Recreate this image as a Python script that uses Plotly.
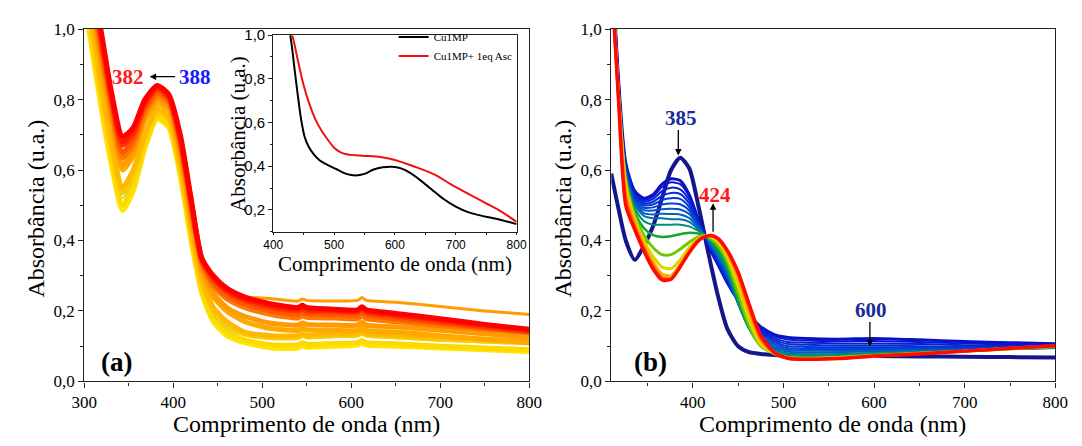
import plotly.graph_objects as go

W, H = 1082, 446
SERIF = "Times New Roman, Liberation Serif, DejaVu Serif, serif"
SANS = "Arial, Liberation Sans, sans-serif"

# ---------------- Panel (a) data ----------------
wl_a = [300, 310, 320, 330, 343, 355, 368, 382, 395, 408, 420, 432, 445, 460, 480,
        510, 540, 545, 550, 580, 607, 612, 617, 650, 700, 750, 800]

a_yellow_1 = [1.08, 0.92, 0.76, 0.62, 0.485, 0.54, 0.66, 0.745, 0.72, 0.58, 0.40, 0.25, 0.17, 0.13, 0.11,
              0.095, 0.095, 0.101, 0.097, 0.10, 0.103, 0.109, 0.103, 0.10, 0.095, 0.09, 0.085]
a_yellow_2 = [1.10, 0.94, 0.78, 0.64, 0.50, 0.555, 0.67, 0.752, 0.73, 0.59, 0.41, 0.26, 0.18, 0.14, 0.118,
              0.104, 0.104, 0.110, 0.106, 0.108, 0.11, 0.116, 0.11, 0.107, 0.10, 0.095, 0.09]
a_lime = [1.12, 0.96, 0.80, 0.66, 0.52, 0.57, 0.68, 0.76, 0.74, 0.60, 0.42, 0.27, 0.19, 0.15, 0.13,
          0.12, 0.12, 0.126, 0.122, 0.125, 0.127, 0.133, 0.127, 0.122, 0.115, 0.11, 0.105]
a_gold_1 = [1.13, 0.97, 0.81, 0.67, 0.535, 0.585, 0.69, 0.765, 0.745, 0.61, 0.43, 0.28, 0.20, 0.16, 0.135,
            0.125, 0.125, 0.131, 0.127, 0.13, 0.132, 0.138, 0.132, 0.127, 0.12, 0.115, 0.11]
a_gold_2 = [1.15, 0.99, 0.83, 0.69, 0.55, 0.60, 0.70, 0.775, 0.75, 0.62, 0.44, 0.29, 0.21, 0.17, 0.14,
            0.13, 0.13, 0.136, 0.132, 0.135, 0.137, 0.143, 0.137, 0.132, 0.125, 0.12, 0.115]
a_amber_1 = [1.20, 1.03, 0.88, 0.74, 0.60, 0.64, 0.74, 0.79, 0.77, 0.64, 0.46, 0.31, 0.24, 0.20, 0.17,
             0.15, 0.145, 0.151, 0.147, 0.145, 0.145, 0.153, 0.145, 0.14, 0.13, 0.12, 0.11]
a_amber_2 = [1.22, 1.05, 0.90, 0.76, 0.615, 0.655, 0.75, 0.80, 0.78, 0.65, 0.47, 0.32, 0.25, 0.21, 0.185,
             0.165, 0.16, 0.166, 0.162, 0.16, 0.16, 0.168, 0.16, 0.155, 0.145, 0.135, 0.125]
a_orange_top = [1.22, 1.05, 0.90, 0.76, 0.62, 0.66, 0.755, 0.805, 0.785, 0.66, 0.48, 0.33, 0.27, 0.25, 0.24,
                0.235, 0.228, 0.234, 0.23, 0.228, 0.23, 0.238, 0.23, 0.225, 0.213, 0.20, 0.19]
a_orange_1 = [1.24, 1.07, 0.92, 0.78, 0.635, 0.67, 0.76, 0.81, 0.79, 0.665, 0.49, 0.335, 0.27, 0.235, 0.21,
              0.19, 0.18, 0.186, 0.182, 0.18, 0.178, 0.186, 0.178, 0.17, 0.158, 0.148, 0.138]
a_orange_2 = [1.26, 1.09, 0.94, 0.80, 0.65, 0.685, 0.775, 0.82, 0.80, 0.675, 0.50, 0.34, 0.28, 0.245, 0.22,
              0.20, 0.19, 0.196, 0.192, 0.19, 0.188, 0.196, 0.188, 0.178, 0.165, 0.152, 0.14]
a_red_1 = [1.28, 1.11, 0.96, 0.81, 0.67, 0.70, 0.785, 0.83, 0.805, 0.685, 0.51, 0.345, 0.29, 0.255, 0.23,
           0.21, 0.20, 0.206, 0.20, 0.198, 0.196, 0.205, 0.196, 0.185, 0.17, 0.155, 0.142]
a_red_2 = [1.29, 1.12, 0.97, 0.82, 0.68, 0.71, 0.79, 0.835, 0.81, 0.69, 0.515, 0.35, 0.295, 0.26, 0.235,
           0.215, 0.205, 0.211, 0.205, 0.202, 0.20, 0.209, 0.20, 0.19, 0.175, 0.16, 0.145]
a_red_3 = [1.30, 1.13, 0.98, 0.83, 0.695, 0.72, 0.80, 0.84, 0.815, 0.70, 0.52, 0.35, 0.30, 0.265, 0.24,
           0.22, 0.21, 0.216, 0.21, 0.205, 0.203, 0.212, 0.203, 0.193, 0.178, 0.162, 0.148]

a_series = [a_yellow_1, a_yellow_2, a_lime, a_gold_1, a_gold_2, a_amber_1, a_amber_2,
            a_orange_top, a_orange_1, a_orange_2, a_red_1, a_red_2, a_red_3]
a_colors = ["#FFE600", "#FFD800", "#B8DC20", "#FFC800", "#FFB800", "#FFA800", "#FF9A00",
            "#FF9C00", "#FF7800", "#FF5800", "#FF3800", "#FF1C00", "#FF0000"]
a_widths = [5, 5, 1.5, 5, 5, 5, 5, 3, 5, 5, 5, 5, 5]

# ---------------- Inset data ----------------
wl_in_black = [425, 430, 436, 441, 446, 452, 458, 465, 475, 490, 505, 520, 535, 550, 565, 580, 595,
               610, 625, 640, 660, 680, 700, 720, 740, 760, 780, 800]
cu1mp = [1.05, 0.96, 0.82, 0.71, 0.61, 0.53, 0.49, 0.46, 0.43, 0.405, 0.385, 0.365, 0.358, 0.365, 0.385,
         0.395, 0.398, 0.39, 0.37, 0.34, 0.295, 0.25, 0.215, 0.19, 0.175, 0.163, 0.15, 0.135]
wl_in_red = [425, 432, 440, 450, 460, 470, 480, 490, 500, 510, 520, 535, 550, 570, 590, 610, 630, 650,
             670, 690, 710, 730, 750, 770, 790, 800]
cu1mp_asc = [1.04, 0.99, 0.89, 0.77, 0.68, 0.61, 0.56, 0.52, 0.485, 0.465, 0.455, 0.45, 0.447, 0.445,
             0.435, 0.42, 0.40, 0.38, 0.355, 0.32, 0.29, 0.26, 0.23, 0.20, 0.165, 0.145]

# ---------------- Panel (b) data ----------------
wl_b = [310, 318, 326, 336, 346, 356, 366, 376, 386, 396, 406, 413, 420, 428, 438, 450, 462, 475,
        490, 505, 525, 560, 600, 650, 700, 750, 800]

b_initial = [0.59, 0.49, 0.40, 0.345, 0.385, 0.44, 0.52, 0.60, 0.635, 0.605, 0.50, 0.415, 0.33, 0.24,
             0.15, 0.10, 0.083, 0.078, 0.075, 0.073, 0.072, 0.071, 0.072, 0.071, 0.07, 0.069, 0.068]
b_f01 = [1.25, 0.86, 0.62, 0.54, 0.52, 0.53, 0.56, 0.575, 0.57, 0.53, 0.46, 0.415, 0.37, 0.33, 0.28, 0.23,
         0.19, 0.155, 0.133, 0.125, 0.122, 0.12, 0.122, 0.118, 0.113, 0.11, 0.107]
b_f02 = [1.25, 0.86, 0.62, 0.535, 0.515, 0.525, 0.552, 0.565, 0.56, 0.525, 0.458, 0.415, 0.372, 0.333,
         0.283, 0.228, 0.185, 0.15, 0.128, 0.119, 0.116, 0.114, 0.115, 0.112, 0.108, 0.105, 0.103]
b_f03 = [1.24, 0.85, 0.61, 0.53, 0.51, 0.518, 0.54, 0.55, 0.545, 0.515, 0.455, 0.415, 0.375, 0.337, 0.287,
         0.226, 0.18, 0.145, 0.122, 0.112, 0.11, 0.108, 0.108, 0.106, 0.103, 0.101, 0.10]
b_f04 = [1.24, 0.85, 0.61, 0.525, 0.505, 0.51, 0.527, 0.535, 0.532, 0.505, 0.45, 0.415, 0.378, 0.34, 0.29,
         0.225, 0.175, 0.14, 0.117, 0.106, 0.104, 0.102, 0.102, 0.10, 0.099, 0.098, 0.097]
b_f05 = [1.23, 0.84, 0.60, 0.52, 0.50, 0.502, 0.515, 0.52, 0.518, 0.495, 0.447, 0.415, 0.38, 0.344, 0.294,
         0.224, 0.17, 0.135, 0.112, 0.10, 0.098, 0.097, 0.097, 0.096, 0.096, 0.096, 0.096]
b_f06 = [1.23, 0.84, 0.60, 0.515, 0.493, 0.494, 0.502, 0.505, 0.503, 0.485, 0.443, 0.415, 0.383, 0.348,
         0.298, 0.223, 0.165, 0.128, 0.106, 0.094, 0.092, 0.092, 0.092, 0.092, 0.093, 0.094, 0.095]
b_f07 = [1.22, 0.84, 0.59, 0.51, 0.486, 0.485, 0.489, 0.49, 0.488, 0.475, 0.44, 0.415, 0.386, 0.352, 0.302,
         0.222, 0.16, 0.122, 0.10, 0.089, 0.087, 0.087, 0.088, 0.089, 0.09, 0.093, 0.095]
b_f08 = [1.22, 0.83, 0.59, 0.505, 0.478, 0.474, 0.476, 0.475, 0.474, 0.464, 0.436, 0.415, 0.389, 0.356,
         0.306, 0.221, 0.155, 0.116, 0.095, 0.084, 0.082, 0.083, 0.085, 0.087, 0.089, 0.092, 0.095]
b_f09 = [1.21, 0.83, 0.585, 0.50, 0.47, 0.463, 0.463, 0.46, 0.46, 0.453, 0.432, 0.415, 0.392, 0.36, 0.31,
         0.22, 0.15, 0.11, 0.09, 0.079, 0.077, 0.078, 0.081, 0.085, 0.088, 0.092, 0.096]
b_f10 = [1.20, 0.83, 0.58, 0.49, 0.455, 0.445, 0.445, 0.445, 0.445, 0.44, 0.427, 0.415, 0.396, 0.366, 0.316,
         0.225, 0.15, 0.105, 0.086, 0.075, 0.073, 0.075, 0.079, 0.083, 0.087, 0.092, 0.097]
b_f11 = [1.20, 0.82, 0.575, 0.48, 0.435, 0.415, 0.41, 0.412, 0.418, 0.422, 0.42, 0.415, 0.40, 0.375, 0.328,
         0.235, 0.152, 0.102, 0.082, 0.071, 0.069, 0.071, 0.076, 0.081, 0.086, 0.092, 0.098]
b_f12 = [1.19, 0.82, 0.57, 0.47, 0.415, 0.38, 0.36, 0.36, 0.375, 0.395, 0.41, 0.414, 0.405, 0.385, 0.34,
         0.25, 0.16, 0.10, 0.079, 0.068, 0.066, 0.068, 0.074, 0.08, 0.086, 0.093, 0.099]
b_f13 = [1.18, 0.81, 0.56, 0.46, 0.40, 0.355, 0.325, 0.32, 0.345, 0.38, 0.405, 0.413, 0.41, 0.394, 0.352,
         0.27, 0.175, 0.105, 0.079, 0.067, 0.065, 0.067, 0.073, 0.079, 0.086, 0.093, 0.10]
b_f14 = [1.17, 0.81, 0.55, 0.45, 0.39, 0.34, 0.305, 0.30, 0.333, 0.372, 0.402, 0.412, 0.413, 0.40, 0.362,
         0.29, 0.195, 0.115, 0.08, 0.066, 0.064, 0.066, 0.072, 0.079, 0.086, 0.094, 0.10]
b_f15 = [1.16, 0.80, 0.52, 0.44, 0.38, 0.33, 0.295, 0.292, 0.327, 0.368, 0.40, 0.411, 0.414, 0.404, 0.368,
         0.302, 0.21, 0.122, 0.081, 0.066, 0.063, 0.065, 0.072, 0.079, 0.086, 0.094, 0.101]
b_f16 = [1.15, 0.80, 0.50, 0.43, 0.37, 0.32, 0.288, 0.29, 0.325, 0.366, 0.399, 0.41, 0.414, 0.405, 0.372,
         0.31, 0.22, 0.13, 0.082, 0.066, 0.063, 0.065, 0.072, 0.078, 0.086, 0.094, 0.101]

b_series = [b_f01, b_f02, b_f03, b_f04, b_f05, b_f06, b_f07, b_f08, b_f09, b_f10,
            b_f11, b_f12, b_f13, b_f14, b_f15, b_f16]
b_colors = ["#0A10C8", "#0818D0", "#0622D4", "#052CD6", "#0436D8", "#0342D4", "#0250CC", "#0060C0",
            "#0074A8", "#00907A", "#10A830", "#70C800", "#D8D800", "#FFB000", "#FF6000", "#FF0A00"]
b_widths = [3, 2, 2, 2, 2, 2, 2, 2, 2, 2, 2.5, 3, 3, 3, 3, 3.5]

# tick labels
x_ticks_a = [300, 400, 500, 600, 700, 800]
x_ticks_b = [400, 500, 600, 700, 800]
x_ticks_in = [400, 500, 600, 700, 800]
y_ticks = [0.0, 0.2, 0.4, 0.6, 0.8, 1.0]
y_ticks_in = [0.2, 0.4, 0.6, 0.8, 1.0]

fig = go.Figure()

for ys, c, w in zip(a_series, a_colors, a_widths):
    fig.add_trace(go.Scatter(x=wl_a, y=ys, mode="lines", xaxis="x", yaxis="y",
                             line=dict(color=c, width=w, shape="spline", smoothing=0.6),
                             showlegend=False, hoverinfo="skip"))

fig.add_trace(go.Scatter(x=wl_b, y=b_initial, mode="lines", xaxis="x2", yaxis="y2",
                         line=dict(color="#16168C", width=4, shape="spline", smoothing=0.7),
                         showlegend=False, hoverinfo="skip"))
for ys, c, w in zip(b_series, b_colors, b_widths):
    fig.add_trace(go.Scatter(x=wl_b, y=ys, mode="lines", xaxis="x2", yaxis="y2",
                             line=dict(color=c, width=w, shape="spline", smoothing=0.7),
                             showlegend=False, hoverinfo="skip"))

fig.add_trace(go.Scatter(x=wl_in_black, y=cu1mp, mode="lines", xaxis="x3", yaxis="y3",
                         name="Cu1MP", line=dict(color="black", width=2, shape="spline"),
                         showlegend=True, hoverinfo="skip"))
fig.add_trace(go.Scatter(x=wl_in_red, y=cu1mp_asc, mode="lines", xaxis="x3", yaxis="y3",
                         name="Cu1MP+ 1eq Asc", line=dict(color="#EE1111", width=2, shape="spline"),
                         showlegend=True, hoverinfo="skip"))


def px_x(p):
    return p / W


def px_y(p):
    return 1 - p / H


dom_y = [px_y(389), px_y(21)]
axis_common = dict(showline=True, linecolor="#222", linewidth=1.2, mirror=True, showgrid=False,
                   zeroline=False, ticks="outside", ticklen=5, tickcolor="#222",
                   tickfont=dict(family=SERIF, size=17, color="black"))

fig.update_layout(
    width=W, height=H, autosize=False,
    margin=dict(l=0, r=0, t=0, b=0),
    paper_bgcolor="white", plot_bgcolor="white",
    separators=",.",
    font=dict(family=SERIF),
    xaxis=dict(domain=[px_x(73), px_x(529)], range=[300, 800], tickvals=x_ticks_a,
               minor=dict(dtick=50, ticklen=3, ticks="outside", tickcolor="#222"),
               anchor="y", **axis_common),
    yaxis=dict(domain=dom_y, range=[0, 1.0], tickvals=y_ticks, tickformat=".1f",
               minor=dict(dtick=0.1, ticklen=3, ticks="outside", tickcolor="#222"),
               anchor="x", **axis_common),
    xaxis2=dict(domain=[px_x(613), px_x(1068)], range=[310, 800], tickvals=x_ticks_b,
                minor=dict(dtick=50, ticklen=3, ticks="outside", tickcolor="#222"),
                anchor="y2", **axis_common),
    yaxis2=dict(domain=dom_y, range=[0, 1.0], tickvals=y_ticks, tickformat=".1f",
                minor=dict(dtick=0.1, ticklen=3, ticks="outside", tickcolor="#222"),
                anchor="x2", **axis_common),
    xaxis3=dict(domain=[px_x(266.7), px_x(516)], range=[400, 800], tickvals=x_ticks_in,
                showline=True, linecolor="#222", linewidth=1.2, mirror=True, showgrid=False,
                zeroline=False, ticks="outside", ticklen=2, tickcolor="#222",
                minor=dict(dtick=50, ticklen=2, ticks="outside", tickcolor="#222"),
                tickfont=dict(family=SANS, size=12, color="black"), anchor="y3"),
    yaxis3=dict(domain=[px_y(232.7), px_y(27.3)], range=[0.1, 1.0], tickvals=y_ticks_in,
                tickformat=".1f",
                showline=True, linecolor="#222", linewidth=1.2, mirror=True, showgrid=False,
                zeroline=False, ticks="outside", ticklen=4, tickcolor="#222",
                minor=dict(dtick=0.1, ticklen=2, ticks="outside", tickcolor="#222"),
                tickfont=dict(family=SANS, size=15, color="black"), anchor="x3"),
    legend=dict(x=px_x(390), y=px_y(14), xanchor="left", yanchor="top",
                bgcolor="rgba(0,0,0,0)", borderwidth=0,
                font=dict(family=SERIF, size=11, color="black"),
                itemwidth=30, tracegroupgap=0),
)

anns = []


def text_ann(txt, x, y, size, color="black", bold=False, angle=0):
    t = f"<b>{txt}</b>" if bold else txt
    anns.append(dict(text=t, x=px_x(x), y=px_y(y), xref="paper", yref="paper",
                     xanchor="center", yanchor="middle", showarrow=False, textangle=angle,
                     font=dict(family=SERIF, size=size, color=color)))


def arrow_ann(hx, hy, ax, ay):
    anns.append(dict(text="", x=px_x(hx), y=px_y(hy), xref="paper", yref="paper",
                     ax=ax, ay=ay, axref="pixel", ayref="pixel", showarrow=True,
                     arrowhead=2, arrowsize=1, arrowwidth=1.3, arrowcolor="black"))


# axis titles
text_ann("Comprimento de onda (nm)", 301, 433, 24)
text_ann("Comprimento de onda (nm)", 840, 433, 24)
text_ann("Absorbância (u.a.)", 24, 208, 24, angle=-90)
text_ann("Absorbância (u.a.)", 564, 208, 24, angle=-90)
text_ann("Comprimento de onda (nm)", 391, 266, 21)
text_ann("Absorbância (u.a.)", 231, 130, 21, angle=-90)

# panel labels
text_ann("(a)", 106, 369, 27, bold=True)
text_ann("(b)", 653, 369, 27, bold=True)

# peak labels and arrows
text_ann("382", 118, 71, 21, color="#FF1A1A", bold=True)
text_ann("388", 186, 71, 21, color="#1A1AFF", bold=True)
arrow_ann(140, 70.7, 27, 0)
text_ann("385", 684, 114, 21, color="#1A2A9A", bold=True)
arrow_ann(681.7, 153, 0, -27)
text_ann("424", 719, 194, 21, color="#FF1A1A", bold=True)
arrow_ann(717.3, 203, 0, 30)
text_ann("600", 879, 314, 21, color="#1A2A9A", bold=True)
arrow_ann(878, 352.6, 0, -26)

fig.update_layout(annotations=anns)

fig.write_html("out.html")
